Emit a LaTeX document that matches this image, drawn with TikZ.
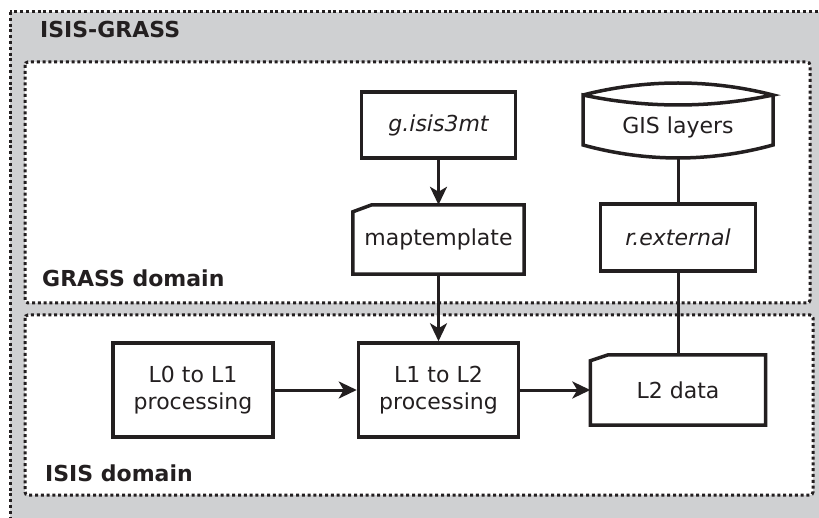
\documentclass[tikz,border=0pt]{standalone}
\usepackage{fontspec}
\setmainfont{DejaVu Sans}
\usetikzlibrary{arrows.meta}
\definecolor{ink}{HTML}{231F20}
\definecolor{panel}{HTML}{CFD0D2}
\begin{document}
\begin{tikzpicture}[x=1pt,y=-1pt,
  every node/.style={font=\fontsize{22}{27}\selectfont, text=ink},
  box/.style={draw=ink, line width=3.5pt, align=center, inner sep=0pt},
  shapebox/.style={draw=none, align=center, inner sep=0pt},
  outline/.style={draw=ink, line width=3.5pt},
  dotbox/.style={draw=ink, line width=3pt, dash pattern=on 3pt off 2.8pt, rounded corners=3pt},
  conn/.style={draw=ink, line width=3pt},
  arr/.style={conn, -{Stealth[length=18pt,width=17pt,inset=5pt]}},
  ttl/.style={font=\bfseries\fontsize{22}{27}\selectfont, anchor=base west, inner sep=0pt}]
\useasboundingbox (0,0) rectangle (819,518);
\fill[white] (0,0) rectangle (819,518);
\begin{scope}
\clip (0,0) rectangle (819,518);
\path[dotbox, sharp corners, fill=panel] (10,12) rectangle (840,540);
\end{scope}
\path[dotbox, fill=white] (25,62) rectangle (810,303);
\path[dotbox, fill=white] (25,315) rectangle (813,495);

\node[ttl] (t0) at (40,38) {ISIS-GRASS};
\node[ttl] (t1) at (42,287) {GRASS domain};
\node[ttl] (t2) at (45,481) {ISIS domain};

\node[box, minimum width=154, minimum height=66] (gis3) at (438.5,125) {\itshape g.isis3mt};
\node[shapebox, minimum width=171, minimum height=69] (mt) at (438.5,239.5) {maptemplate};
\draw[outline, line join=miter] ([yshift=-7pt]mt.north west) -- ([xshift=19pt]mt.north west) -- (mt.north east) -- (mt.south east) -- (mt.south west) -- cycle;

\node[shapebox, minimum width=190, minimum height=62] (gis) at (678,127) {GIS layers};
\draw[outline, shift={(gis.center)}] (-95,-32) .. controls (-32,-48) and (32,-48) .. (95,-32)
  .. controls (32,-18.7) and (-32,-18.7) .. (-95,-32) -- (-95,18)
  .. controls (-32,35.3) and (32,35.3) .. (95,18) -- (95,-32);

\node[box, minimum width=155, minimum height=67] (rext) at (678,237.5) {\itshape r.external};

\node[box, minimum width=160, minimum height=94] (l0) at (193,390) {L0 to L1\\processing};
\node[box, minimum width=160, minimum height=94] (l1) at (438.5,390) {L1 to L2\\processing};
\node[shapebox, minimum width=175, minimum height=70] (l2) at (678,390) {L2 data};
\draw[outline] ([yshift=-6pt]l2.north west) -- ([xshift=18pt]l2.north west) -- (l2.north east) -- (l2.south east) -- (l2.south west) -- cycle;

\draw[arr] (gis3.south) -- (mt.north);
\draw[arr] (mt.south) -- (l1.north);
\draw[conn] (gis.south) -- (rext.north);
\draw[conn] (rext.south) -- (l2.north);
\draw[arr] (l0.east) -- (l1.west);
\draw[arr] (l1.east) -- (l2.west);
\end{tikzpicture}
\end{document}
